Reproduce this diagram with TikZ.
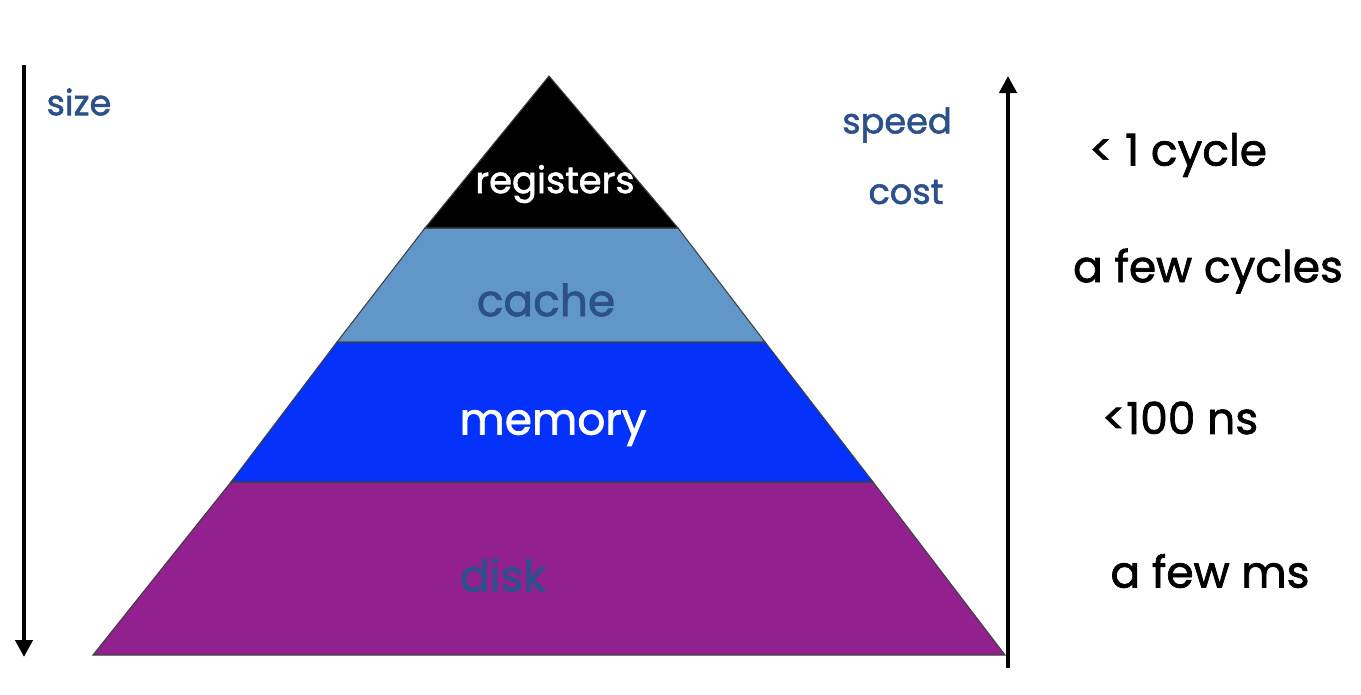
\documentclass[tikz,border=0pt]{standalone}
\usepackage{fontspec}
\setmainfont{Poppins}[FakeBold = 1.6]
\usetikzlibrary{arrows.meta, positioning, calc}
\definecolor{labelblue}{RGB}{43,80,138}
\definecolor{cachefill}{RGB}{96,150,200}
\definecolor{memfill}{RGB}{5,50,250}
\definecolor{diskfill}{RGB}{146,32,142}
\tikzset{> = { Triangle[length = 3.4mm, width = 3.4mm] }}

\begin{document}
\begin{tikzpicture}[x = 0.02cm, y = -0.02cm, layer/.style = { draw = black!75, line width = 0.6pt }, axis/.style = { ->, line width = 2.6pt }, small/.style = { text = labelblue, font = \fontsize{20}{24}\selectfont }, time/.style = { text = black, font = \fontsize{25}{30}\selectfont }, inside/.style = { font = \fontsize{25}{30}\selectfont }]
				\useasboundingbox (0,0) rectangle (1361,694);

				\coordinate (apex) at (549,76);
				\coordinate (r1l) at (425,228);
				\coordinate (r1r) at (678,228);
				\coordinate (r2l) at (337,342);
				\coordinate (r2r) at (765,342);
				\coordinate (r3l) at (231,482);
				\coordinate (r3r) at (873,482);
				\coordinate (bl) at (93,655);
				\coordinate (br) at (1005,655);

				% the four levels
				\filldraw [layer, fill = diskfill] (r3l) -- (r3r) -- (br) -- (bl) -- cycle;
				\filldraw [layer, fill = memfill] (r2l) -- (r2r) -- (r3r) -- (r3l) -- cycle;
				\filldraw [layer, fill = cachefill] (r1l) -- (r1r) -- (r2r) -- (r2l) -- cycle;
				\filldraw [layer, fill = black] (apex) -- (r1r) -- (r1l) -- cycle;

				\node [inside, text = white, font = \fontsize{21}{24}\selectfont] (registers) at (555,184) {registers};
				\node [inside, text = labelblue] (cache) at (546,300) {cache};
				\node [inside, text = white] (memory) at (553,428) {memory};
				\node [inside, text = labelblue] (disk) at (503,575) {disk};

				% axes
				\coordinate (sizetop) at (24,65);
				\coordinate (sizebot) at (24,657);
				\coordinate (speedbot) at (1008,668);
				\coordinate (speedtop) at (1008,76);
				\draw [axis] (sizetop) -- (sizebot);
				\draw [axis] (speedbot) -- (speedtop);

				\node [small] (size) at (79,102) {size};
				\node [small] (speed) at (897,125) {speed};
				\node [small] (cost) at (906,192) {cost};

				\node [time] (t1) at (1178,155) {< 1 cycle};
				\node [time] (t2) at (1208,271) {a few cycles};
				\node [time] (t3) at (1180,418) {<100 ns};
				\node [time] (t4) at (1210,571) {a few ms};
			\end{tikzpicture}
\end{document}
